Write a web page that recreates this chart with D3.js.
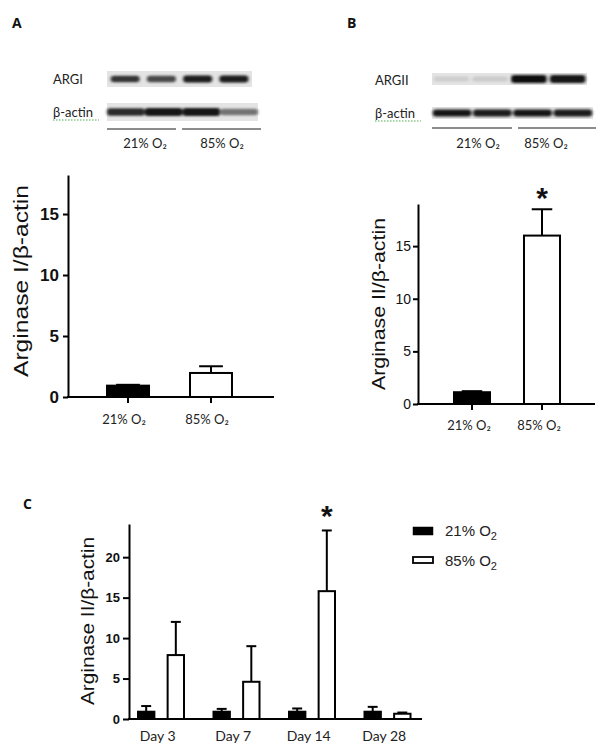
<!DOCTYPE html>
<html><head><meta charset="utf-8">
<script src="https://cdn.jsdelivr.net/npm/d3@7"></script>
<style>body{margin:0;background:#fff}svg{display:block}</style>
</head><body>
<script>
// ---------- data ----------
const groupLabels = ["21% O₂", "85% O₂"];
const panelAMeans = [0.93, 1.97];
const panelAErrors = [0.07, 0.55];
const panelATicks = [0, 5, 10, 15];
const panelBMeans = [1.12, 16.0];
const panelBErrors = [0.1, 2.5];
const panelBTicks = [0, 5, 10, 15];
const panelBSignif = [false, true];
const days = ["Day 3", "Day 7", "Day 14", "Day 28"];
const seriesNames = ["21% O2", "85% O2"];
const c21Means = [0.9, 0.9, 0.9, 0.9];
const c21Errors = [0.7, 0.35, 0.4, 0.6];
const c85Means = [7.9, 4.6, 15.8, 0.65];
const c85Errors = [4.1, 4.4, 7.5, 0.15];
const c85Signif = [false, false, true, false];
const panelCTicks = [0, 5, 10, 15, 20];
// western blot band intensities (lane 1..4)
const blotA_ARGI = [0.8, 0.7, 0.92, 0.92];
const blotA_actin = [0.85, 0.95, 0.95, 0.5];
const blotB_ARGII = [0.06, 0.08, 1.0, 0.95];
const blotB_actin = [0.95, 0.92, 0.95, 0.92];

const W = 605, H = 751;
const svg = d3.select("body").append("svg").attr("width", W).attr("height", H);
svg.append("rect").attr("width", W).attr("height", H).attr("fill", "#fff");
const defs = svg.append("defs");
defs.append("filter").attr("id", "blur").attr("x", "-20%").attr("y", "-60%").attr("width", "140%").attr("height", "220%")
  .append("feGaussianBlur").attr("stdDeviation", "1.4 1.0");

const CAL = "Lato, 'Open Sans', sans-serif";
const ARIAL = "'Liberation Sans', Arial, sans-serif";

// ---------- panel letters ----------
[["A", 12, 28], ["B", 347, 28], ["C", 23, 509]].forEach(([t, x, y]) =>
  svg.append("text").attr("x", x).attr("y", y).text(t)
    .attr("font-family", "'Open Sans', sans-serif").attr("font-weight", 700).attr("font-size", 14).attr("fill", "#111"));

// ---------- blots ----------
function blot(cfg) {
  const g = svg.append("g");
  cfg.rows.forEach(r => {
    g.append("rect").attr("x", r.x0).attr("y", r.y0).attr("width", r.x1 - r.x0).attr("height", r.y1 - r.y0).attr("fill", "#e4e4e4");
    const lane = d3.scaleBand().domain(d3.range(4)).range([r.x0, r.x1]).paddingInner(r.gap).paddingOuter(r.gap / 2);
    const cy = (r.y0 + r.y1) / 2;
    g.append("g").attr("filter", "url(#blur)").selectAll("rect").data(r.values).join("rect")
      .attr("x", (d, i) => lane(i)).attr("width", lane.bandwidth())
      .attr("y", d => cy - r.bh * (0.5 + 0.3 * d) / 1.1).attr("height", d => r.bh * (1 + 0.6 * d) / 1.1)
      .attr("rx", 3)
      .attr("fill", d => d3.interpolateRgb("#dadada", "#0c0c0c")(d));
    g.append("text").attr("x", cfg.labelX).attr("y", r.labelY).text(r.label)
      .attr("font-family", CAL).attr("font-size", 13).attr("fill", "#222");
    if (r.label === "β-actin") {
      g.append("path").attr("d", `M${cfg.labelX},${r.labelY + 3} h46`).attr("stroke", "#4caf50")
        .attr("stroke-width", 1).attr("stroke-dasharray", "1.5,1.5");
    }
  });
  cfg.lines.forEach((l, i) => {
    g.append("line").attr("x1", l[0]).attr("x2", l[1]).attr("y1", cfg.lineY).attr("y2", cfg.lineY)
      .attr("stroke", "#666").attr("stroke-width", 1.5);
    g.append("text").attr("x", cfg.labelCenters[i]).attr("y", cfg.groupY).attr("text-anchor", "middle")
      .text(groupLabels[i]).attr("font-family", CAL).attr("font-size", 13).attr("fill", "#222");
  });
}
blot({
  labelX: 53,
  rows: [
    { label: "ARGI", labelY: 84, x0: 107, x1: 252, y0: 71, y1: 87, bh: 5, gap: 0.2, values: blotA_ARGI },
    { label: "β-actin", labelY: 117, x0: 107, x1: 258, y0: 103, y1: 121, bh: 5.5, gap: 0.0, values: blotA_actin }
  ],
  lines: [[107, 176], [182, 261]], lineY: 129, labelCenters: [145, 222], groupY: 148
});
blot({
  labelX: 375,
  rows: [
    { label: "ARGII", labelY: 85, x0: 432, x1: 587, y0: 73, y1: 85, bh: 5.5, gap: 0.08, values: blotB_ARGII },
    { label: "β-actin", labelY: 118, x0: 432, x1: 593, y0: 107, y1: 119, bh: 5, gap: 0.04, values: blotB_actin }
  ],
  lines: [[432, 512], [518, 596]], lineY: 128, labelCenters: [478, 546], groupY: 148
});

// ---------- generic bar panel pieces ----------
function yAxis(g, y, x0, ticks, o) {
  const ax = g.append("g").attr("transform", `translate(${x0},0)`)
    .call(d3.axisLeft(y).tickValues(ticks).tickSize(o.tick).tickSizeOuter(0).tickPadding(o.pad));
  ax.select(".domain").attr("stroke", "#000").attr("stroke-width", 2);
  ax.selectAll(".tick line").attr("stroke", "#000").attr("stroke-width", 2);
  ax.selectAll(".tick text").attr("font-family", ARIAL).attr("font-size", o.fs).attr("font-weight", o.bold ? 700 : 400).attr("fill", "#111");
}
function yLabel(text, cx, cy, fs, len) {
  svg.append("text").attr("transform", `translate(${cx},${cy}) rotate(-90)`).attr("text-anchor", "middle")
    .attr("dominant-baseline", "central").text(text)
    .attr("font-family", ARIAL).attr("font-size", fs).attr("fill", "#111")
    .attr("textLength", len).attr("lengthAdjust", "spacingAndGlyphs");
}
function bars(g, xs, w, means, errs, fill, y) {
  const data = means.map((m, i) => ({ x: xs[i], m, e: errs[i] }));
  g.selectAll(null).data(data).join("line")
    .attr("x1", d => d.x).attr("x2", d => d.x).attr("y1", d => y(d.m)).attr("y2", d => y(d.m + d.e))
    .attr("stroke", "#000").attr("stroke-width", 2);
  g.selectAll(null).data(data).join("line")
    .attr("x1", d => d.x - w * 0.27).attr("x2", d => d.x + w * 0.27).attr("y1", d => y(d.m + d.e)).attr("y2", d => y(d.m + d.e))
    .attr("stroke", "#000").attr("stroke-width", 2);
  g.selectAll(null).data(data).join("rect")
    .attr("x", d => d.x - w / 2 + 1).attr("width", w - 2)
    .attr("y", d => y(d.m)).attr("height", d => y(0) - y(d.m))
    .attr("fill", fill).attr("stroke", "#000").attr("stroke-width", 2);
}
function star(g, x, yBase) {
  g.append("text").attr("x", x).attr("y", yBase).attr("text-anchor", "middle").text("*")
    .attr("font-family", ARIAL).attr("font-weight", 700).attr("font-size", 30).attr("fill", "#111");
}

// ---------- Panel A ----------
{
  const g = svg.append("g");
  const y = d3.scaleLinear().domain([0, 18.2]).range([397, 175]);
  const x = d3.scaleBand().domain(groupLabels).range([67, 272]).padding(0.47);
  const xs = groupLabels.map(c => x(c) + x.bandwidth() / 2);
  bars(g, [xs[0]], x.bandwidth(), [panelAMeans[0]], [panelAErrors[0]], "#000", y);
  bars(g, [xs[1]], x.bandwidth(), [panelAMeans[1]], [panelAErrors[1]], "#fff", y);
  yAxis(g, y, 68, panelATicks, { tick: 5, pad: 4, fs: 17, bold: true });
  g.append("line").attr("x1", 67).attr("x2", 274).attr("y1", y(0)).attr("y2", y(0)).attr("stroke", "#000").attr("stroke-width", 2);
  g.selectAll(null).data(groupLabels).join("line").attr("x1", d => x(d) + x.bandwidth() / 2).attr("x2", d => x(d) + x.bandwidth() / 2)
    .attr("y1", y(0)).attr("y2", y(0) + 6).attr("stroke", "#000").attr("stroke-width", 2);
  g.selectAll(null).data(groupLabels).join("text").attr("x", d => x(d) + x.bandwidth() / 2 - 4).attr("y", 424)
    .attr("text-anchor", "middle").text(d => d).attr("font-family", CAL).attr("font-size", 13).attr("fill", "#222");
  yLabel("Arginase I/β-actin", 20, 281, 21, 192);
}

// ---------- Panel B ----------
{
  const g = svg.append("g");
  const y = d3.scaleLinear().domain([0, 19]).range([404, 204]);
  const x = d3.scaleBand().domain(groupLabels).range([421, 593]).padding(0.457);
  const xs = groupLabels.map(c => x(c) + x.bandwidth() / 2);
  bars(g, [xs[0]], x.bandwidth(), [panelBMeans[0]], [panelBErrors[0]], "#000", y);
  bars(g, [xs[1]], x.bandwidth(), [panelBMeans[1]], [panelBErrors[1]], "#fff", y);
  yAxis(g, y, 418, panelBTicks, { tick: 5, pad: 2, fs: 14, bold: false });
  g.append("line").attr("x1", 417).attr("x2", 595).attr("y1", y(0)).attr("y2", y(0)).attr("stroke", "#000").attr("stroke-width", 2);
  g.selectAll(null).data(groupLabels).join("line").attr("x1", d => x(d) + x.bandwidth() / 2).attr("x2", d => x(d) + x.bandwidth() / 2)
    .attr("y1", y(0)).attr("y2", y(0) + 6).attr("stroke", "#000").attr("stroke-width", 2);
  g.selectAll(null).data(groupLabels).join("text").attr("x", d => x(d) + x.bandwidth() / 2 - 3).attr("y", 430)
    .attr("text-anchor", "middle").text(d => d).attr("font-family", CAL).attr("font-size", 13).attr("fill", "#222");
  groupLabels.forEach((d, i) => {
    if (panelBSignif[i]) star(g, x(d) + x.bandwidth() / 2, y(panelBMeans[i] + panelBErrors[i]) - 1);
  });
  yLabel("Arginase II/β-actin", 378, 304, 19, 172);
}

// ---------- Panel C ----------
{
  const g = svg.append("g");
  const y = d3.scaleLinear().domain([0, 24.1]).range([719, 524]);
  const x = d3.scaleBand().domain(days).range([124, 426]);
  const xi = d3.scaleBand().domain(seriesNames).range([13, 61]).paddingInner(0.38);
  const bw = xi.bandwidth();
  const xs21 = days.map(d => x(d) + xi(seriesNames[0]) + bw / 2);
  const xs85 = days.map(d => x(d) + xi(seriesNames[1]) + bw / 2);
  bars(g, xs21, bw, c21Means, c21Errors, "#000", y);
  bars(g, xs85, bw, c85Means, c85Errors, "#fff", y);
  yAxis(g, y, 129, panelCTicks, { tick: 6, pad: 3, fs: 13, bold: true });
  g.append("line").attr("x1", 128).attr("x2", 422).attr("y1", y(0)).attr("y2", y(0)).attr("stroke", "#000").attr("stroke-width", 2);
  g.selectAll(null).data(days).join("text").attr("x", d => x(d) + x.bandwidth() / 2 - 4).attr("y", 741)
    .attr("text-anchor", "middle").text(d => d).attr("font-family", CAL).attr("font-size", 14).attr("fill", "#222");
  days.forEach((d, i) => {
    if (c85Signif[i]) star(g, xs85[i], y(c85Means[i] + c85Errors[i]) - 4);
  });
  yLabel("Arginase II/β-actin", 88, 621, 18, 168);
  // legend
  const lg = svg.append("g");
  seriesNames.forEach((s, i) => {
    const yy = 527 + i * 30;
    lg.append("rect").attr("x", 413).attr("y", yy).attr("width", 20).attr("height", i === 0 ? 8 : 6)
      .attr("fill", i === 0 ? "#000" : "#fff").attr("stroke", "#000").attr("stroke-width", i === 0 ? 0.5 : 1.8);
    const t = lg.append("text").attr("x", 445).attr("y", yy + 9).attr("font-family", ARIAL).attr("font-size", 15).attr("fill", "#222");
    t.append("tspan").text(s.replace("O2", "O"));
    t.append("tspan").attr("font-size", 11).attr("dy", 4).text("2");
  });
}
</script>
</body></html>
